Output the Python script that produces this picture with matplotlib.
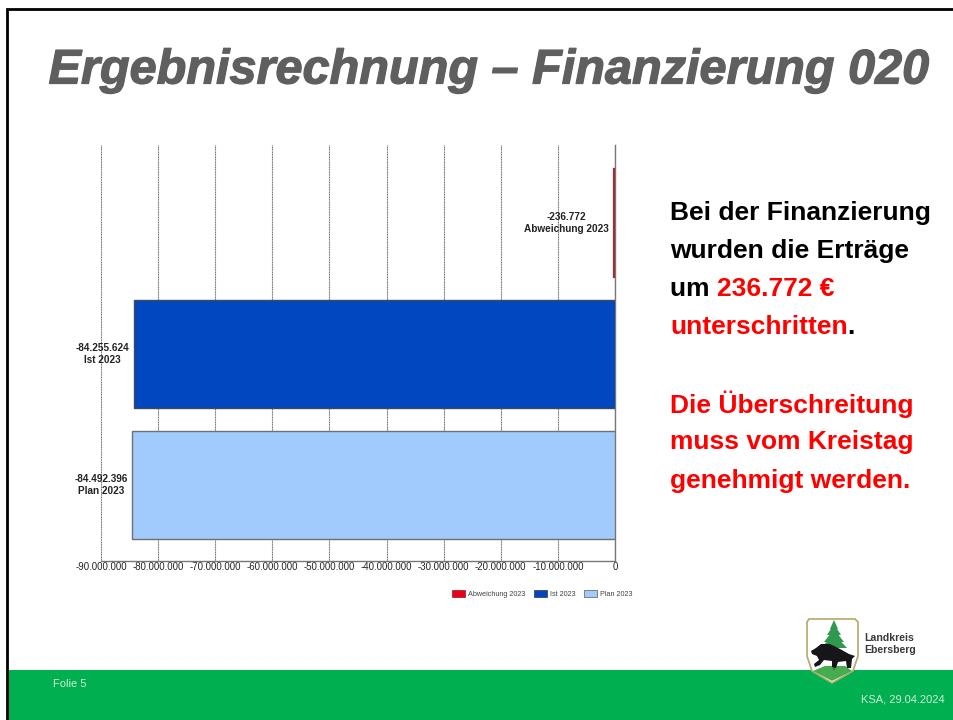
import matplotlib as mpl
mpl.use("Agg")
import matplotlib.pyplot as plt
import matplotlib.patheffects as pe
from matplotlib.patches import Polygon, Rectangle

plt.rcParams['font.family'] = ['Liberation Sans', 'DejaVu Sans']

categories = ["Plan 2023", "Ist 2023", "Abweichung 2023"]
values = [-84492396, -84255624, -236772]
value_labels = ["-84.492.396", "-84.255.624", "-236.772"]
bar_colors = ["#a0cbfc", "#0047c0", "#e8001c"]
edge_colors = ["#707070", "#404860", "#a82a30"]
edge_widths = [1, 1, 1.6]
x_ticks = [-90000000, -80000000, -70000000, -60000000, -50000000,
           -40000000, -30000000, -20000000, -10000000, 0]
x_tick_labels = ["-90.000.000", "-80.000.000", "-70.000.000", "-60.000.000", "-50.000.000",
                 "-40.000.000", "-30.000.000", "-20.000.000", "-10.000.000", "0"]
legend_order = [2, 1, 0]

W, H = 954, 720
fig = plt.figure(figsize=(W / 100, H / 100), dpi=100, facecolor="white")

# slide background in pixel coordinates
bg = fig.add_axes([0, 0, 1, 1])
bg.set_xlim(0, W)
bg.set_ylim(H, 0)
bg.axis("off")
bg.add_patch(Rectangle((8, 670), W - 8, 50, color="#00b050", lw=0))
bg.plot([7.5, 7.5, W], [720, 8.5, 8.5], color="black", lw=2, solid_joinstyle="miter")

title = bg.text(489, 71, "Ergebnisrechnung \u2013 Finanzierung 020", fontsize=35,
                fontweight="bold", fontstyle="italic", color="#5f5f5f",
                ha="center", va="center")
title.set_path_effects([pe.withStroke(linewidth=0.9, foreground="#5f5f5f")])

# chart
left, right, top, bottom = 101, 615, 145, 561
ax = fig.add_axes([left / W, 1 - bottom / H, (right - left) / W, (bottom - top) / H])
ax.barh(range(3), values, height=0.82, color=bar_colors, edgecolor=edge_colors, linewidth=edge_widths, zorder=3)
ax.set_xlim(-90000000, 0)
ax.set_ylim(-0.58, 2.595)
ax.set_xticks(x_ticks)
ax.set_xticklabels(x_tick_labels, fontsize=6.9, color="#222222")
ax.set_yticks([])
ax.tick_params(axis="x", length=0, pad=1)
ax.grid(axis="x", color="#707070", lw=0.8, ls=(0, (1, 0.5)), zorder=0)
ax.set_axisbelow(True)
for side in ["top", "left"]:
    ax.spines[side].set_visible(False)
for side in ["bottom", "right"]:
    ax.spines[side].set_color("#777777")
    ax.spines[side].set_linewidth(1)
for i in range(3):
    ax.annotate(value_labels[i] + "\n" + categories[i], (values[i], i), xytext=(-3.5, 0),
                textcoords="offset points", ha="right", va="center", ma="center",
                fontsize=7.2, fontweight="bold", color="#222222", linespacing=1.35, zorder=4)

# legend
handles = [Rectangle((0, 0), 1, 1, facecolor=bar_colors[i], edgecolor=edge_colors[i], lw=0.6)
           for i in legend_order]
fig.legend(handles, [categories[i] for i in legend_order], loc="center right",
           bbox_to_anchor=(633 / W, 1 - 594 / H), ncols=3, frameon=False, fontsize=5.2,
           handlelength=1.8, handleheight=1.0, handletextpad=0.45, columnspacing=1.15,
           labelcolor="#444444", borderpad=0, borderaxespad=0)

# text on the right
FS = 19
for txt, y in [("Bei der Finanzierung", 213), ("wurden die Erträge", 251)]:
    bg.text(670, y, txt, fontsize=FS, fontweight="bold", color="black", va="center")
t = bg.text(670, 289, "um ", fontsize=FS, fontweight="bold", color="black", va="center")
bg.annotate("236.772 €", xy=(1, 0), xycoords=t, va="bottom", fontsize=FS,
            fontweight="bold", color="#ff0000")
t3 = bg.text(670, 327, "unterschritten", fontsize=FS, fontweight="bold", color="#ff0000", va="center")
bg.annotate(".", xy=(1, 0), xycoords=t3, va="bottom", fontsize=FS, fontweight="bold", color="black")
for txt, y in [("Die Überschreitung", 404), ("muss vom Kreistag", 442), ("genehmigt werden.", 481)]:
    bg.text(670, y, txt, fontsize=FS, fontweight="bold", color="#ff0000", va="center")

# footer
bg.text(53, 684, "Folie 5", fontsize=8, color="#d0ecd8", va="center")
bg.text(945, 700, "KSA, 29.04.2024", fontsize=8, color="#d0ecd8", va="center", ha="right")
bg.text(864, 644, "Landkreis\nEbersberg", fontsize=7.6, fontweight="bold", color="#3a3a3a",
        va="center", linespacing=1.15)

# coat of arms, roughly
shield = [(809, 619), (855, 619), (858, 622), (858, 656), (853, 671), (832, 683), (812, 671), (807, 656), (807, 622)]
bg.add_patch(Polygon(shield, closed=True, facecolor="white", edgecolor="#b5a868", lw=1.2))
bg.add_patch(Polygon([(813, 671), (825, 666), (845, 666), (852, 671), (832, 681)], color="#45ad50", lw=0))
for top_y, half, base in [(620, 4, 629), (624, 7, 635), (629, 10, 642), (634, 13, 648)]:
    bg.add_patch(Polygon([(834, top_y), (834 - half, base), (834 + half, base)], color="#2f9a4f", lw=0))
bg.add_patch(Rectangle((833, 645), 2, 25, color="#5a6a40", lw=0))
boar = [(811, 651), (816, 648), (821, 644), (830, 644), (840, 649), (849, 654), (855, 656), (852, 659), (851, 668),
        (847, 668), (846, 661), (838, 662), (836, 668), (832, 667), (832, 661), (824, 660), (820, 665), (815, 667),
        (814, 664), (819, 660), (817, 656), (812, 654)]
bg.add_patch(Polygon(boar, closed=True, color="#15151a", lw=0))

fig.savefig("out.png", dpi=100)
